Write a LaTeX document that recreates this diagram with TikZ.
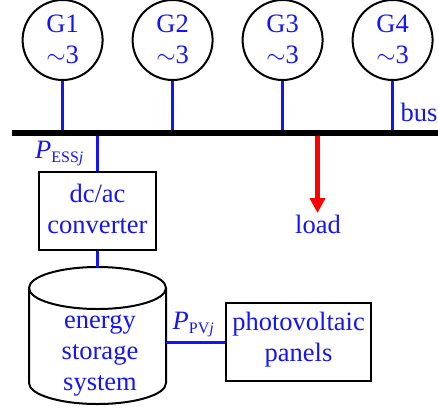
\documentclass[tikz,border=0pt]{standalone}
\usepackage{fontspec}
\setmainfont{Liberation Serif}
\usetikzlibrary{arrows.meta}
\definecolor{tblue}{RGB}{20,20,245}
\tikzset{
  x=1pt,y=-1pt,
  txt/.style={text=tblue,font=\fontsize{26.5}{31}\selectfont,align=center,inner sep=0pt},
  gen/.style={circle,draw=black,line width=2pt,minimum size=80pt,inner sep=0pt},
  blk/.style={rectangle,draw=black,line width=2pt,inner sep=0pt},
  outline/.style={draw=black,line width=2pt},
  conn/.style={draw=tblue,line width=2.5pt},
  busbar/.style={draw=black,line width=5.5pt},
  loadarrow/.style={draw=red,line width=5pt,-{Triangle[length=15pt,width=15pt,fill=red]}}
}
\begin{document}
\begin{tikzpicture}
\useasboundingbox (0,0) rectangle (438,407);
\coordinate (busL) at (12,133);
\coordinate (busR) at (438,133);
\foreach \n/\x in {1/62.6,2/172.6,3/282.6,4/392.6}{
  \node[gen] (g\n) at (\x,40) {};
  \node[txt] (gt\n) at (\x,24) {G\n};
  \node[txt] (gs\n) at (\x,54.5) {$\sim$3};
  \draw[conn] (g\n.south) -- (g\n.south |- busL);
}
\node[blk,minimum width=117pt,minimum height=78pt] (conv) at (97.3,211) {};
\node[txt] (convt) at (97.5,208.5) {dc/ac\\converter};
\draw[conn] (conv.north |- busL) -- (conv.north);
\node[inner sep=0pt,minimum width=137pt,minimum height=137pt] (ess) at (97.3,335.5) {};
\draw[outline] (97.5,288) ellipse [x radius=68.5pt,y radius=21pt];
\draw[outline] (29,288) -- (29,383) arc [start angle=180,end angle=360,x radius=68.5pt,y radius=21pt] -- (166,288);
\node[txt] (esst) at (100,356) {energy\\storage\\system};
\draw[conn] (conv.south) -- (ess.north);
\node[blk,minimum width=145pt,minimum height=78pt] (pv) at (298.5,342.4) {};
\node[txt] (pvt) at (298.5,340) {photovoltaic\\panels};
\draw[conn] (pv.west -| ess.east) -- (pv.west);
\coordinate (loadT) at (317.5,213);
\draw[loadarrow] (loadT |- busL) -- (loadT);
\draw[busbar] (busL) -- (busR);
\node[txt] (load) at (318,224) {load};
\node[txt] (bus) at (419,112.5) {bus};
\node[txt,anchor=base west] (pess) at (35,158) {\textit{P}\fontsize{16}{16}\selectfont\raisebox{-4pt}{ESS\textit{j}}};
\node[txt,anchor=base west] (ppv) at (172.5,329.5) {\textit{P}\fontsize{16}{16}\selectfont\raisebox{-4pt}{PV\textit{j}}};
\end{tikzpicture}
\end{document}
